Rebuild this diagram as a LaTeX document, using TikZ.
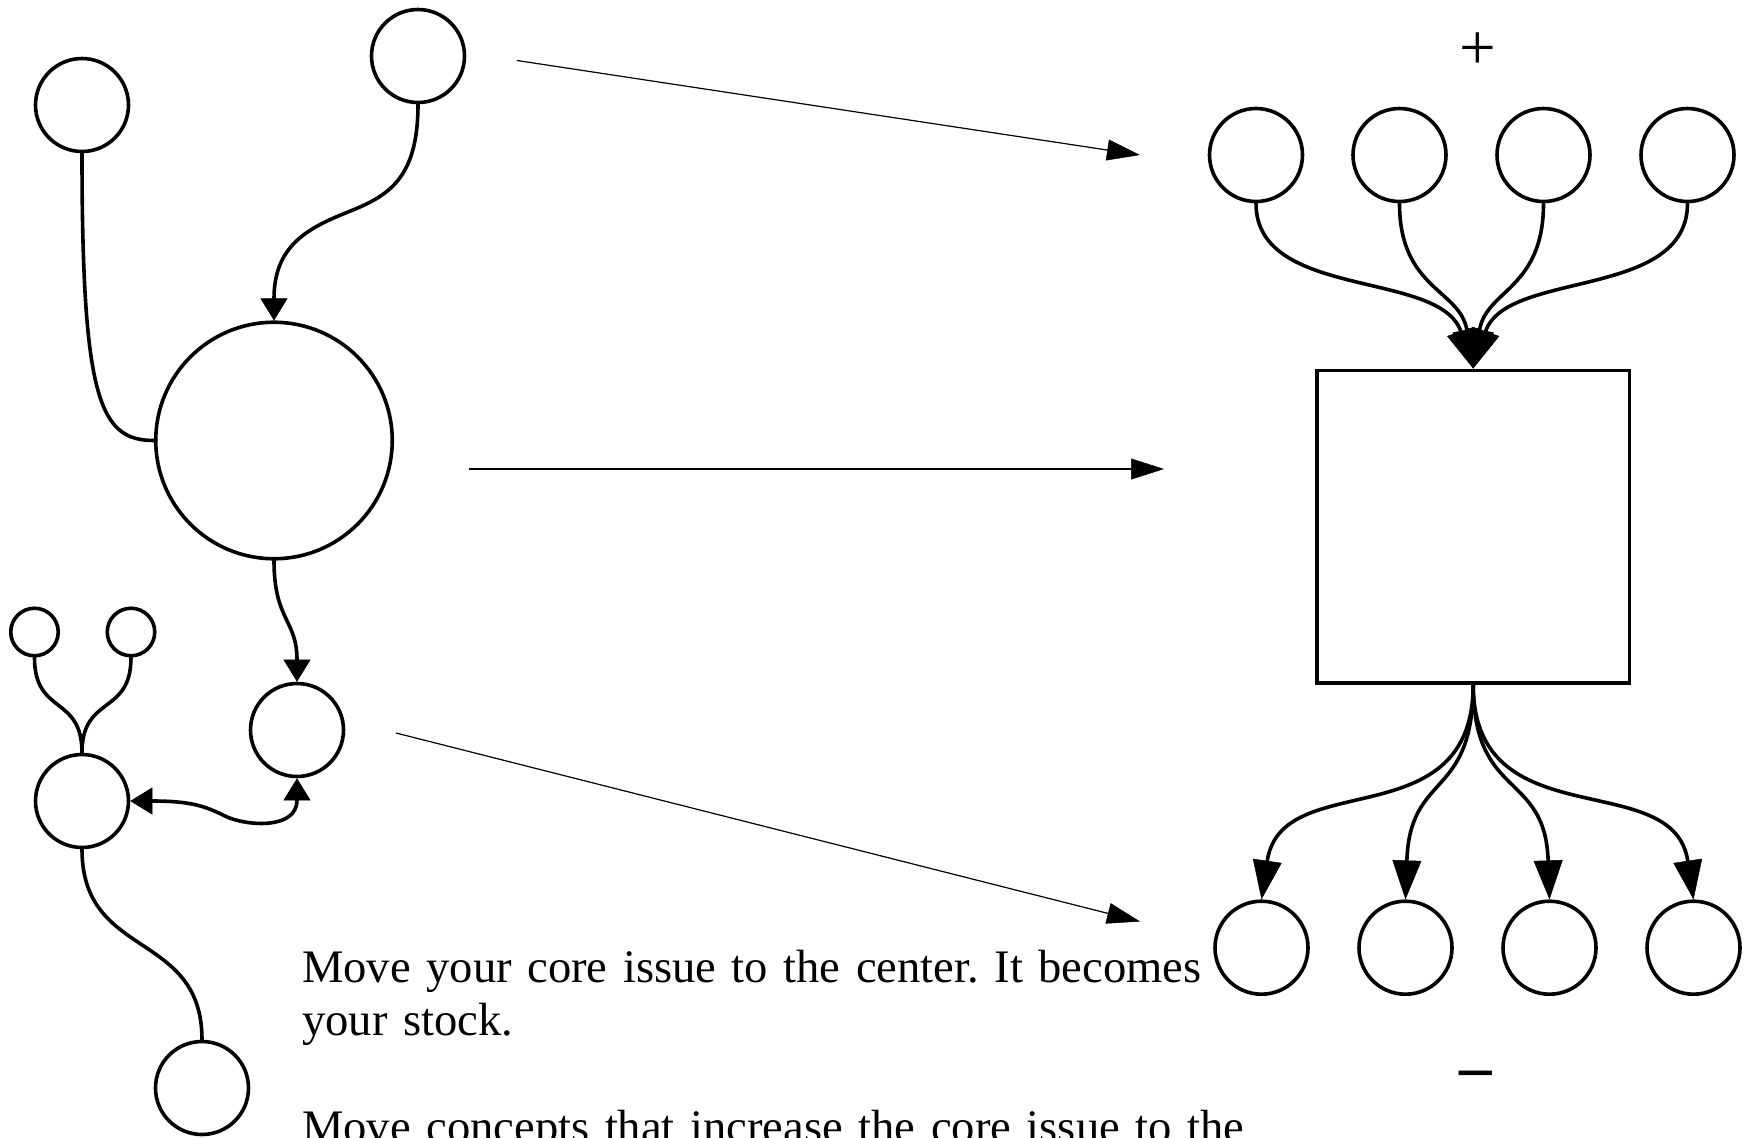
\documentclass[tikz,border=0pt]{standalone}
\usepackage{fontspec}
\setmainfont{Liberation Serif}
\usetikzlibrary{arrows.meta,calc}

\tikzset{
  concept/.style={circle,draw,line width=3.6pt,inner sep=0pt,minimum size=93pt},
  smallconcept/.style={concept,minimum size=47.5pt},
  coreconcept/.style={concept,minimum size=236.5pt},
  stockbox/.style={draw,line width=3.6pt,inner sep=0pt,minimum width=312.4pt,minimum height=312.4pt},
  link/.style={line width=3.6pt,line cap=round},
  pointer/.style={line width=1.2pt},
  shorthead/.tip={Triangle[length=22pt,width=27pt,line width=0.5pt]},
  longhead/.tip={Triangle[length=39pt,width=29pt,line width=0.5pt]},
  thinhead/.tip={Triangle[length=33pt,width=21pt,line width=0.5pt]},
  signlabel/.style={anchor=base,inner sep=0pt,font=\fontsize{65}{70}\selectfont}
}

\begin{document}
\begin{tikzpicture}[x=1pt,y=-1pt]
  \fill[white] (0,0) rectangle (1749,1138);
  \useasboundingbox (0,0) rectangle (1749,1138);

  % left-hand concept map
  \node[concept] (A) at (82,105) {};
  \node[concept] (B) at (418,56) {};
  \node[coreconcept] (C) at (274,440.5) {};
  \node[smallconcept] (D1) at (34.5,632) {};
  \node[smallconcept] (D2) at (131,632) {};
  \node[concept] (E) at (82,801) {};
  \node[concept] (F) at (297,730) {};
  \node[concept] (G) at (202,1088) {};

  \coordinate (bcmid) at (348,212);
  \coordinate (efmid) at (225,816);

  \draw[link] (A.south) .. controls +(0,247) and +(-54,0) .. (C.west);
  \draw[link,-shorthead] (B.south) .. controls +(0,75) and +(40,-16) .. (bcmid)
        .. controls +(-40,16) and +(0,-75) .. (C.north);
  \draw[link,-shorthead] (C.south) .. controls +(0,60) and +(0,-62) .. (F.north);
  \draw[link] (D1.south) .. controls +(0,58) and +(0,-58) .. (E.north);
  \draw[link] (D2.south) .. controls +(0,58) and +(0,-58) .. (E.north);
  \draw[link,shorthead-shorthead] (E.east) .. controls +(60,0) and +(-20,-10) .. (efmid)
        .. controls +(20,10) and +(0,52) .. (F.south);
  \draw[link] (E.south) .. controls +(0,111) and +(0,-110) .. (G.north);

  % stock with inflows and outflows
  \node[stockbox] (S) at (1473.2,526.5) {};
  \node[concept] (T1) at (1256,155) {};
  \node[concept] (T2) at (1399.5,155) {};
  \node[concept] (T3) at (1543.5,155) {};
  \node[concept] (T4) at (1687.5,155) {};
  \node[concept] (U1) at (1261.5,947.7) {};
  \node[concept] (U2) at (1405.5,947.7) {};
  \node[concept] (U3) at (1549.5,947.7) {};
  \node[concept] (U4) at (1693.5,947.7) {};

  \draw[link,-longhead] (T1.south) .. controls +(0,97) and +(-33,-99) .. (S.north);
  \draw[link,-longhead] (T2.south) .. controls +(0,86) and +(-13,-79) .. (S.north);
  \draw[link,-longhead] (T3.south) .. controls +(0,86) and +(13,-79) .. (S.north);
  \draw[link,-longhead] (T4.south) .. controls +(0,97) and +(33,-99) .. (S.north);

  \draw[link,-longhead] (S.south) .. controls +(0,156) and +(20,-134) .. (U1.north);
  \draw[link,-longhead] (S.south) .. controls +(0,116) and +(4.5,-129) .. (U2.north);
  \draw[link,-longhead] (S.south) .. controls +(0,116) and +(-4.5,-129) .. (U3.north);
  \draw[link,-longhead] (S.south) .. controls +(0,156) and +(-20,-134) .. (U4.north);

  \node[signlabel] (plus) at (1477.7,69.5) {+};
  \node[signlabel,font=\fontsize{65}{70}\selectfont\bfseries] (minus) at (1475.3,1088) {–};

  % guide arrows from the map to the stock
  \coordinate (g1s) at (517,60.5);
  \coordinate (g1e) at (1140,155);
  \coordinate (g2s) at (469,469);
  \coordinate (g2e) at (1164,469);
  \coordinate (g3s) at (396,733);
  \coordinate (g3e) at (1140,921.5);
  \draw[pointer,-thinhead] (g1s) -- (g1e);
  \draw[pointer,-thinhead] (g2s) -- (g2e);
  \draw[pointer,-thinhead] (g3s) -- (g3e);

  % instructions
  \node[anchor=base west,inner sep=0pt,text width=1000pt,align=left,
        font=\fontsize{46.6}{53.3}\selectfont\frenchspacing] (steps) at (302,982.5)
    {\mbox{Move your core issue to the center. It becomes}\\
     \mbox{your stock.}\\[53.3pt]
     \mbox{Move concepts that increase the core issue to the}};
\end{tikzpicture}
\end{document}
